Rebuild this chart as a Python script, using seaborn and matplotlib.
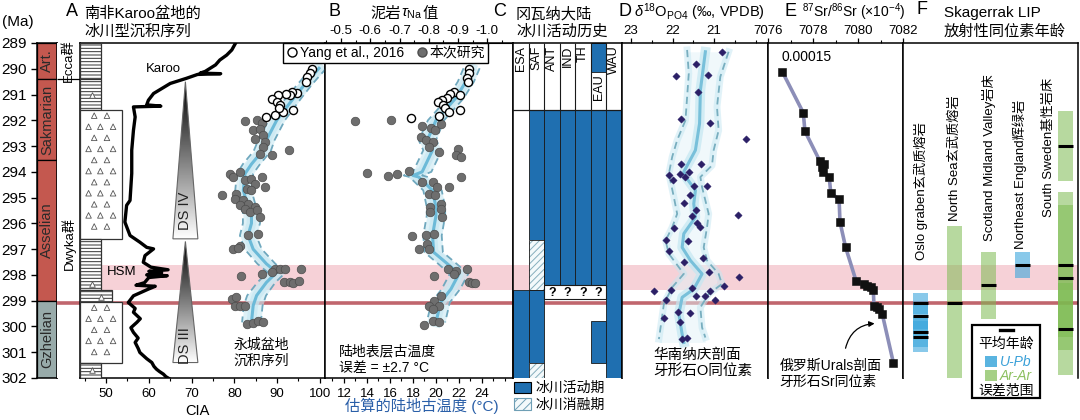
import numpy as np
import matplotlib
matplotlib.use("Agg")
import matplotlib.pyplot as plt
import matplotlib.transforms as mtransforms
from matplotlib.patches import Rectangle, Polygon, Patch
from matplotlib.lines import Line2D
from matplotlib.ticker import MultipleLocator
import seaborn as sns

plt.rcParams["font.family"] = ["Liberation Sans", "Noto Sans CJK SC"]
plt.rcParams["axes.unicode_minus"] = False
plt.rcParams["hatch.linewidth"] = 0.7
plt.rcParams["hatch.color"] = "#86aebd"
plt.rcParams["mathtext.fontset"] = "custom"
plt.rcParams["mathtext.rm"] = "Liberation Sans"
plt.rcParams["mathtext.it"] = "Liberation Sans:italic"

# ---------------- data ----------------
stage_names = ["Art.", "Sakmarian", "Asselian", "Gzhelian"]
stage_top = [289.0, 290.4, 293.55, 299.0]
stage_base = [290.4, 293.55, 299.0, 302.0]

group_names = ["Ecca群", "Dwyka群"]
group_top = [289.0, 290.4]
group_base = [290.4, 302.0]

litho_top = [289.0, 290.4, 291.6, 296.6, 298.6, 299.05, 301.4]
litho_base = [290.4, 291.6, 296.6, 298.6, 299.05, 301.4, 302.0]
litho_kind = ["mud", "mud", "dia", "mud", "mix", "dia", "mud"]
litho_tri_age = [291.0, 298.35, 298.85, 301.7]

karoo_age = [289.0, 289.27, 289.47, 289.66, 289.85, 290.1, 290.17, 290.19, 290.22, 290.37,
             290.57, 290.96, 291.22, 291.4, 291.45, 291.48, 291.87, 292.39, 293.16, 294.06,
             295.11, 295.3, 295.95, 296.47, 296.73, 296.93, 296.99, 297.25, 297.51, 297.7,
             297.8, 297.86, 297.92, 298.0, 298.03, 298.1, 298.3, 298.4, 298.44, 298.55,
             298.81, 299.07, 299.3, 299.45, 299.7, 299.84, 300.05, 300.23, 300.45, 300.62,
             300.85, 301.01, 301.25, 301.4, 301.55, 301.66, 301.75, 301.85, 301.95, 302.05]
karoo_cia = [80.3, 79.4, 78.2, 76.6, 75.6, 73.2, 72.0, 76.8, 71.4, 68.8,
             65.0, 61.1, 59.9, 59.5, 62.8, 56.4, 56.8, 56.4, 56.0, 56.0,
             55.6, 54.8, 54.4, 55.6, 57.9, 59.5, 61.1, 59.1, 58.7, 60.5,
             64.5, 60.0, 63.0, 59.5, 64.3, 60.0, 59.0, 57.0, 61.5, 59.9,
             56.4, 55.2, 56.8, 56.4, 58.0, 57.2, 55.8, 56.4, 57.5, 56.8,
             57.5, 57.9, 59.5, 60.7, 61.2, 61.8, 62.5, 63.4, 64.0, 65.0]

a_open_age = [290.02, 290.18, 290.31, 290.51, 290.93, 290.89, 291.02, 290.96, 291.0,
              291.19, 291.28, 291.41, 291.67, 291.8, 291.89, 291.61, 291.54]
a_open_cia = [98.1, 97.8, 97.0, 96.7, 94.6, 93.4, 93.0, 92.0, 90.3,
              88.7, 89.9, 90.7, 91.3, 89.5, 87.3, 93.8, 90.5]
a_fill_age = [292.03, 291.97, 292.12, 292.39, 292.32, 292.58, 292.71, 292.84, 293.03, 293.29,
              293.36, 293.14, 294.07, 294.2, 294.0, 294.33, 294.26, 294.46, 294.2, 294.59,
              294.65, 294.72, 294.85, 294.89, 295.04, 295.11, 295.24, 295.3, 295.37, 295.45,
              295.56, 295.5, 295.76, 296.4, 296.47, 296.86, 296.99, 296.95, 297.77, 297.77,
              297.77, 297.9, 297.77, 297.96, 298.03, 298.29, 298.29, 298.31, 298.22, 298.93,
              298.87, 299.19, 299.19, 299.19, 299.91, 299.87, 299.78, 299.84]
a_fill_cia = [82.5, 85.2, 86.4, 84.4, 85.9, 86.7, 84.8, 87.1, 86.7, 86.0,
              88.7, 92.8, 79.0, 79.7, 81.3, 82.5, 84.0, 84.8, 86.4, 87.1,
              82.9, 84.0, 80.5, 77.0, 80.1, 82.1, 83.2, 81.3, 84.8, 82.5,
              83.6, 85.2, 86.0, 85.6, 83.2, 81.3, 79.7, 80.9, 89.5, 90.7,
              91.8, 88.7, 95.7, 86.4, 81.5, 91.6, 93.0, 93.6, 95.2, 79.4,
              80.5, 80.1, 81.3, 82.5, 82.9, 84.4, 85.6, 86.7]
a_trend_age = [289.98, 290.6, 291.15, 292.0, 292.77, 293.2, 293.7, 294.07, 294.72, 295.37,
               295.56, 296.0, 296.47, 297.0, 297.57, 297.9, 298.29, 298.8, 299.19, 299.84]
a_trend_mid = [99.8, 96.5, 93.8, 89.9, 87.5, 86.5, 84.0, 82.5, 82.1, 83.2,
               84.0, 84.0, 83.2, 84.4, 87.5, 89.9, 87.5, 85.2, 84.4, 84.0]
a_trend_lo = [98.0, 94.8, 92.0, 88.0, 85.6, 84.5, 82.0, 80.6, 80.2, 81.3,
              82.0, 82.0, 81.3, 82.4, 85.4, 87.8, 85.4, 83.0, 82.2, 81.8]
a_trend_hi = [101.5, 98.2, 95.6, 91.8, 89.4, 88.5, 86.0, 84.4, 84.0, 85.1,
              86.0, 86.0, 85.1, 86.4, 89.6, 92.0, 89.6, 87.4, 86.6, 86.2]

b_open_age = [290.02, 290.18, 290.37, 290.5, 290.89, 290.96, 291.02, 291.15, 291.22,
              291.28, 291.41, 291.54, 291.67, 291.61, 291.84, 291.9]
b_open_t = [22.9, 22.85, 22.7, 22.8, 21.55, 21.26, 22.1, 20.98, 20.55,
            20.2, 20.6, 20.77, 21.1, 22.08, 20.25, 17.8]
b_fill_age = [292.02, 291.97, 292.23, 292.28, 292.39, 292.15, 292.65, 292.77, 292.84, 293.03,
              293.23, 293.1, 293.36, 293.42, 294.03, 294.16, 294.1, 293.98, 294.4, 294.4,
              294.59, 294.59, 294.2, 294.85, 294.91, 295.24, 295.37, 295.56, 295.43, 295.76,
              296.5, 296.47, 296.4, 296.79, 296.99, 296.99, 297.77, 297.83, 297.77, 297.96,
              298.05, 298.26, 298.31, 298.31, 298.83, 299.0, 299.19, 299.19, 299.32, 299.95,
              299.78, 299.84]
b_fill_t = [12.95, 16.1, 18.8, 19.6, 19.95, 20.4, 18.7, 19.1, 19.7, 19.4,
            20.25, 21.9, 21.7, 22.2, 13.97, 15.85, 16.6, 17.65, 18.75, 19.7,
            20.1, 21.1, 22.2, 19.4, 19.95, 20.4, 19.5, 19.5, 20.4, 20.55,
            17.9, 19.1, 19.8, 19.25, 18.5, 19.4, 21.05, 21.7, 22.7, 21.55,
            19.8, 22.85, 23.1, 23.4, 20.4, 19.8, 19.4, 20.25, 19.7, 19.0,
            19.7, 20.25]
b_trend_age = [289.98, 290.5, 291.15, 292.0, 292.77, 293.16, 294.0, 294.14, 294.2, 294.72,
               295.37, 295.7, 296.47, 297.12, 297.57, 297.96, 298.55, 299.07, 299.84]
b_trend_mid = [23.1, 22.6, 21.7, 20.0, 19.25, 19.7, 18.8, 18.0, 18.5, 19.7,
               20.0, 20.0, 19.7, 19.8, 21.0, 22.0, 21.3, 20.4, 20.0]
b_trend_lo = [22.4, 21.9, 21.0, 19.3, 18.5, 18.9, 18.0, 17.2, 17.7, 18.9,
              19.2, 19.2, 18.9, 19.0, 20.2, 21.2, 20.5, 19.6, 19.2]
b_trend_hi = [23.8, 23.3, 22.4, 20.7, 20.0, 20.5, 19.6, 18.8, 19.3, 20.5,
              20.8, 20.8, 20.5, 20.6, 21.8, 22.8, 22.1, 21.2, 20.8]

c_regions = ["ESA", "SAF", "ANT", "IND", "TH", "EAU", "WAU"]
c_active_col = [0, 1, 1, 2, 3, 4, 5, 5, 5, 6]
c_active_top = [298.6, 291.6, 298.6, 291.6, 291.6, 291.6, 289.0, 291.6, 299.8, 291.6]
c_active_base = [302.0, 296.65, 301.42, 298.4, 298.4, 298.4, 290.13, 298.4, 301.42, 302.0]
c_melt_col = [1, 1]
c_melt_top = [296.65, 301.42]
c_melt_base = [298.6, 302.0]
c_unknown_cols = [2, 3, 4, 5]
c_unknown_top, c_unknown_base = 298.4, 298.95

d_age = [289.34, 289.82, 290.28, 290.25, 290.92, 291.95, 292.12, 292.71, 293.68, 293.68,
         294.14, 294.07, 294.2, 294.01, 294.33, 294.53, 294.53, 294.91, 295.2, 295.69,
         295.5, 295.73, 295.99, 296.15, 296.17, 296.64, 296.67, 297.09, 297.48, 297.33,
         297.87, 298.09, 298.44, 298.51, 298.58, 298.64, 298.97, 298.83, 298.83, 298.64,
         298.97, 299.42, 299.48, 299.67, 299.84, 300.49, 300.43]
d_o18 = [20.82, 21.43, 21.93, 21.14, 21.39, 21.8, 21.09, 20.23, 21.79, 21.31,
         22.09, 21.81, 21.69, 21.6, 22.0, 21.49, 21.17, 21.57, 21.73, 20.42,
         21.43, 21.53, 21.41, 21.33, 21.96, 22.15, 21.63, 22.09, 21.72, 21.27,
         21.13, 20.4, 20.75, 21.53, 22.03, 22.44, 22.17, 21.43, 21.21, 21.1,
         20.97, 21.87, 21.57, 22.21, 21.81, 21.77, 21.65]
d_trend_age = [289.34, 290.83, 292.12, 293.16, 294.0, 294.27, 294.72, 295.24, 295.76, 296.4,
               296.93, 297.44, 297.96, 298.55, 298.87, 299.52, 300.3, 300.62]
d_trend_mid = [21.21, 21.33, 21.35, 21.45, 21.73, 21.65, 21.45, 21.49, 21.45, 21.73,
               21.77, 21.57, 21.29, 21.49, 21.77, 21.85, 21.77, 21.73]
d_lo_age = [289.27, 290.18, 292.0, 292.77, 293.42, 294.07, 294.98, 295.63, 296.15, 296.67,
            297.18, 297.96, 298.48, 299.13, 300.04, 300.49]
d_lo = [21.65, 21.61, 21.69, 21.89, 22.01, 22.09, 21.97, 21.89, 22.01, 22.17,
        22.09, 21.73, 22.01, 22.21, 22.29, 22.33]
d_hi_age = [289.34, 290.31, 291.48, 292.39, 293.16, 293.75, 294.2, 294.59, 295.63, 296.15,
            296.93, 297.44, 297.96, 298.35, 298.74, 299.26, 300.04, 300.43]
d_hi = [20.65, 20.85, 20.93, 20.89, 21.01, 21.05, 21.33, 21.29, 21.13, 21.17,
        21.25, 21.17, 20.89, 20.81, 21.13, 21.33, 21.29, 21.21]

e_age = [290.12, 291.71, 292.42, 293.59, 293.68, 293.81, 294.0, 294.2, 294.82, 295.07,
         295.95, 296.93, 298.22, 298.35, 298.42, 298.48, 298.58, 299.19, 299.26, 299.32,
         299.52, 301.4]
e_sr = [7076.64, 7077.57, 7077.64, 7078.31, 7078.49, 7078.39, 7078.43, 7078.72, 7078.79, 7079.16,
        7079.2, 7079.45, 7079.91, 7080.27, 7080.41, 7080.56, 7080.68, 7080.71, 7080.83, 7080.94,
        7081.08, 7081.57]

f_sites = ["Oslo graben玄武质熔岩", "North Sea玄武质熔岩", "Scotland Midland Valley岩床",
           "Northeast England辉绿岩", "South Sweden基性岩床"]
f_site = [0, 0, 0, 0, 1, 2, 3, 4, 4, 4, 4]
f_age = [299.1, 299.6, 300.2, 300.4, 299.1, 298.4, 297.6, 293.0, 297.6, 298.1, 300.1]
f_err = [0.4, 0.5, 0.6, 0.6, 3.0, 1.3, 0.5, 1.35, 2.8, 2.8, 1.8]
f_method = ["U-Pb", "U-Pb", "U-Pb", "U-Pb", "Ar-Ar", "Ar-Ar", "U-Pb",
            "Ar-Ar", "Ar-Ar", "Ar-Ar", "Ar-Ar"]

hsm_top, hsm_base = 297.6, 298.6
boundary_age = 299.1

# ---------------- layout ----------------
W, H = 1080, 420
TOP, BOT = 43, 378
fig = plt.figure(figsize=(W / 100, H / 100), dpi=100)


def fx(x):
    return x / W


def fy(y):
    return 1 - y / H


def add_ax(x0, x1):
    return fig.add_axes([fx(x0), fy(BOT), (x1 - x0) / W, (BOT - TOP) / H])


def ftext(x, y, s, **kw):
    kw.setdefault("ha", "left")
    kw.setdefault("va", "center")
    return fig.text(fx(x), fy(y), s, **kw)


ax_st = add_ax(37, 57)
ax_gr = add_ax(57, 80)
ax_a = add_ax(80, 325)
ax_b = add_ax(325, 513)
ax_c = add_ax(513, 622)
ax_d = add_ax(622, 768)
ax_e = add_ax(768, 903)
ax_f = add_ax(903, 1078)
all_ax = [ax_st, ax_gr, ax_a, ax_b, ax_c, ax_d, ax_e, ax_f]

for ax in all_ax:
    ax.set_ylim(302, 289)
    for sp in ax.spines.values():
        sp.set_linewidth(1.1)
    ax.tick_params(left=False, labelleft=False, bottom=False, labelbottom=False,
                   direction="out", width=0.9, length=3.5, labelsize=9.5)
    ax.tick_params(which="minor", direction="out", width=0.8, length=2.2)

PINK = "#f6d1d7"
RED = "#c0666d"
for ax in [ax_a, ax_b, ax_c, ax_d, ax_e, ax_f]:
    ax.axhspan(hsm_top, hsm_base, color=PINK, lw=0, zorder=0)
for ax in [ax_gr, ax_a, ax_b, ax_c, ax_d, ax_e, ax_f]:
    ax.axhline(boundary_age, color=RED, lw=2.6, zorder=0.5)

# ---------------- stage column ----------------
stage_colors = ["#c4584f", "#c4584f", "#c4584f", "#98abaa"]
for name, t, b, c in zip(stage_names, stage_top, stage_base, stage_colors):
    ax_st.add_patch(Rectangle((0, t), 1, b - t, facecolor=c, edgecolor="k", lw=0.9))
    ax_st.text(0.5, (t + b) / 2, name, rotation=90, ha="center", va="center",
               fontsize=10.5, color="#2a2a2a")
ax_st.set_xlim(0, 1)
ax_st.set_xticks([])
ax_st.set_yticks(range(289, 303))
ax_st.tick_params(left=True, labelleft=True, labelsize=11, length=4, width=1)
ftext(2, 22, "(Ma)", fontsize=11)

# ---------------- group column ----------------
ax_gr.set_xlim(0, 1)
ax_gr.set_xticks([])
for sp in ax_gr.spines.values():
    sp.set_visible(False)
ax_gr.hlines(group_base[0], 0, 1, color="k", lw=0.9)
for name, t, b in zip(group_names, group_top, group_base):
    yc = (t + b) / 2 if b - t < 3 else 296.8
    ax_gr.text(0.5, yc, name, rotation=90, ha="center", va="center", fontsize=9.5)

# ---------------- panel A ----------------
ax_a.set_xlim(43.9, 101.2)
trans_a = mtransforms.blended_transform_factory(ax_a.transAxes, ax_a.transData)
kind_width = {"mud": 0.0857, "mix": 0.131, "dia": 0.171}
for t, b, k in zip(litho_top, litho_base, litho_kind):
    if k == "dia":
        ax_a.add_patch(Rectangle((0, t), kind_width[k], b - t, transform=trans_a,
                                 facecolor="white", edgecolor="#333333", lw=0.9, zorder=3))
        rows = np.arange(t + 0.22, b - 0.15, 0.43)
        for i, yy in enumerate(rows):
            xs = [0.035, 0.083, 0.135] if i % 2 else [0.058, 0.11]
            ax_a.scatter(xs, [yy] * len(xs), marker="^", s=16, facecolor="none",
                         edgecolor="#555555", lw=0.6, transform=trans_a, zorder=4)
    else:
        ax_a.add_patch(Rectangle((0, t), kind_width[k], b - t, transform=trans_a,
                                 facecolor="white", edgecolor="#333333", lw=0.9,
                                 hatch="-----", zorder=3))
for ta in litho_tri_age:
    in_mix = any(t <= ta < b and k == "mix" for t, b, k in zip(litho_top, litho_base, litho_kind))
    ax_a.scatter([0.085 if in_mix else 0.05], [ta], marker="^", s=16, facecolor="white",
                 edgecolor="#555555", lw=0.6, transform=trans_a, zorder=4)


def ds_triangle(ax, apex, base, xc, half, label, label_y):
    tri = Polygon([[xc, apex], [xc - half, base], [xc + half, base]], closed=True,
                  facecolor="none", edgecolor="#666666", lw=0.8, zorder=3)
    ax.add_patch(tri)
    grad = np.linspace(0, 1, 200).reshape(-1, 1)
    im = ax.imshow(grad, cmap="gray", vmin=0, vmax=1.0, extent=[xc - half, xc + half, base, apex],
                   aspect="auto", zorder=2, interpolation="bilinear")
    im.set_clip_path(tri)
    ax.text(xc, label_y, label, rotation=90, ha="center", va="center", fontsize=10.5,
            color="#222222", zorder=4)


ds_triangle(ax_a, 290.5, 296.6, 68.55, 2.92, "DS IV", 295.5)
ds_triangle(ax_a, 296.7, 301.4, 68.55, 2.92, "DS III", 300.75)

sns.lineplot(x=karoo_cia, y=karoo_age, sort=False, estimator=None, color="k", lw=2.4,
             ax=ax_a, zorder=4)


def trend(ax, age, mid, lo, hi, glow="#c8e8f2", col="#6cbad8", dcol="#6fa8be",
          lo_age=None, hi_age=None, fill_alpha=0.6):
    lo_age = age if lo_age is None else lo_age
    hi_age = age if hi_age is None else hi_age
    if lo_age is age and hi_age is age:
        ax.fill_betweenx(age, lo, hi, color=glow, alpha=fill_alpha, lw=0, zorder=1.5)
    sns.lineplot(x=mid, y=age, sort=False, estimator=None, color=glow, lw=7, alpha=0.7,
                 ax=ax, zorder=1.6)
    sns.lineplot(x=mid, y=age, sort=False, estimator=None, color=col, lw=2.2, ax=ax, zorder=3)
    for e, ea in ((lo, lo_age), (hi, hi_age)):
        if lo_age is not age:
            sns.lineplot(x=e, y=ea, sort=False, estimator=None, color=glow, lw=5, alpha=0.5,
                         ax=ax, zorder=1.6)
        sns.lineplot(x=e, y=ea, sort=False, estimator=None, color=dcol, lw=1.3,
                     ls=(0, (4, 2.5)), ax=ax, zorder=3)


trend(ax_a, a_trend_age, a_trend_mid, a_trend_lo, a_trend_hi)
sns.scatterplot(x=a_fill_cia, y=a_fill_age, ax=ax_a, color="#6e6e6e", edgecolor="#4d4d4d",
                linewidth=0.5, s=38, zorder=5)
sns.scatterplot(x=a_open_cia, y=a_open_age, ax=ax_a, color="white", edgecolor="k",
                linewidth=1.0, s=34, zorder=6)
ax_a.set_xlim(43.9, 101.2)
ax_a.set_ylim(302, 289)
ax_a.set_xticks(range(50, 101, 10))
ax_a.xaxis.set_minor_locator(MultipleLocator(5))
ax_a.tick_params(bottom=True, labelbottom=True)
ax_a.tick_params(which="minor", bottom=True)
ax_a.text(63.3, 290.0, "Karoo", ha="center", va="center", fontsize=9.5, zorder=5)
ax_a.text(50.2, 297.87, "HSM", ha="left", va="center", fontsize=9.5, zorder=5)
ax_a.text(79.7, 300.45, "永城盆地\n沉积序列", ha="left", va="top", fontsize=10,
          linespacing=1.15, zorder=5)
ax_a.set_xlabel("")
ax_a.set_ylabel("")
ftext(197, 411, "CIA", ha="center", fontsize=10.5)

# ---------------- panel B ----------------
ax_b.set_xlim(10.35, 26.7)
trend(ax_b, b_trend_age, b_trend_mid, b_trend_lo, b_trend_hi)
sns.scatterplot(x=b_fill_t, y=b_fill_age, ax=ax_b, color="#6e6e6e", edgecolor="#4d4d4d",
                linewidth=0.5, s=38, zorder=5)
sns.scatterplot(x=b_open_t, y=b_open_age, ax=ax_b, color="white", edgecolor="k",
                linewidth=1.0, s=34, zorder=6)
ax_b.set_xlim(10.35, 26.7)
ax_b.set_ylim(302, 289)
ax_b.set_xticks(range(12, 25, 2))
ax_b.xaxis.set_minor_locator(MultipleLocator(1))
ax_b.tick_params(bottom=True, labelbottom=True)
ax_b.tick_params(which="minor", bottom=True)
ax_b.set_xlabel("")
ax_b.set_ylabel("")


def t2tau(t):
    return -0.5 - (np.asarray(t) - 11.74) * 0.03928


def tau2t(v):
    return 11.74 + (-0.5 - np.asarray(v)) / 0.03928


sec = ax_b.secondary_xaxis("top", functions=(t2tau, tau2t))
tau_ticks = [-0.5, -0.6, -0.7, -0.8, -0.9, -1.0]
sec.set_xticks(tau_ticks)
sec.set_xticklabels([f"{v:.1f}" for v in tau_ticks])
sec.xaxis.set_minor_locator(MultipleLocator(0.05))
sec.tick_params(direction="out", length=3.5, width=0.9, labelsize=9.5, pad=1)
sec.tick_params(which="minor", direction="out", length=2.2, width=0.8)
ax_b.text(11.6, 300.95, "陆地表层古温度", ha="left", va="center", fontsize=10, zorder=5)
ax_b.text(11.6, 301.62, "误差 = ±2.7 °C", ha="left", va="center", fontsize=10, zorder=5)
ftext(422, 406, "估算的陆地古温度 (°C)", ha="center", fontsize=11, color="#2a5fa8")

leg_h = [Line2D([], [], marker="o", ls="", markerfacecolor="white", markeredgecolor="k",
                markersize=6.5),
         Line2D([], [], marker="o", ls="", markerfacecolor="#6e6e6e",
                markeredgecolor="#4d4d4d", markersize=6.5)]
leg = fig.legend(leg_h, ["Yang et al., 2016", "本次研究"], loc="upper right",
                 bbox_to_anchor=(fx(488), fy(43)), ncol=2, frameon=True, fancybox=False,
                 edgecolor="k", framealpha=1, fontsize=10, handletextpad=0.05,
                 columnspacing=0.8, borderpad=0.2, handlelength=1.0, borderaxespad=0)
leg.get_frame().set_linewidth(1.0)

# ---------------- panel C ----------------
BLUE = "#1f6fb0"
ax_c.set_xlim(0, 7)
ax_c.set_xticks([])
ax_c.spines["bottom"].set_visible(False)
for col, t, b in zip(c_active_col, c_active_top, c_active_base):
    ax_c.bar(col + 0.5, b - t, bottom=t, width=1, color=BLUE, edgecolor="#1a1a1a",
             lw=0.6, zorder=2)
for col, t, b in zip(c_melt_col, c_melt_top, c_melt_base):
    ax_c.bar(col + 0.5, b - t, bottom=t, width=1, color="#f3f9fb", edgecolor=None, lw=0,
             hatch="/////", zorder=2)
    ax_c.add_patch(Rectangle((col, t), 1, b - t, fill=False, edgecolor="#1a1a1a", lw=0.6,
                             zorder=2.5))
qc = c_unknown_cols
ax_c.add_patch(Rectangle((qc[0], c_unknown_top), len(qc), c_unknown_base - c_unknown_top,
                         facecolor="white", edgecolor="#1a1a1a", lw=0.8, zorder=3))
for col in qc:
    ax_c.text(col + 0.5, (c_unknown_top + c_unknown_base) / 2 + 0.03, "?", ha="center",
              va="center", fontsize=9, fontweight="bold", zorder=4)
ax_c.axhline(291.6, color="#1a1a1a", lw=0.9, zorder=3)
ax_c.vlines(range(1, 7), 289, 291.6, color="#1a1a1a", lw=0.8, zorder=3)
for i, name in enumerate(c_regions):
    ytop = 290.2 if name == "EAU" else 289.1
    ax_c.text(i + 0.5, ytop, name, rotation=90, ha="center", va="top", fontsize=9,
              zorder=4)
c_handles = [Patch(facecolor=BLUE, edgecolor="k", lw=0.8),
             Patch(facecolor="#f3f9fb", edgecolor="#6f9fb5", hatch="////", lw=0.8)]
ax_c.legend(c_handles, ["冰川活动期", "冰川消融期"], loc="upper left",
            bbox_to_anchor=(0.0, -0.005), frameon=False, fontsize=10, handlelength=1.2,
            handleheight=0.9, handletextpad=0.3, labelspacing=0.2, borderaxespad=0,
            borderpad=0.1)

# ---------------- panel D ----------------
ax_d.spines["bottom"].set_visible(False)
ax_d.fill_betweenx(d_trend_age, np.interp(d_trend_age, d_lo_age, d_lo),
                   np.interp(d_trend_age, d_hi_age, d_hi), color="#e2f3f8", alpha=0.5,
                   lw=0, zorder=1.5)
trend(ax_d, d_trend_age, d_trend_mid, d_lo, d_hi, glow="#c4e7f2", col="#78c0da",
      dcol="#78aebf", lo_age=d_lo_age, hi_age=d_hi_age)
sns.scatterplot(x=d_o18, y=d_age, ax=ax_d, marker="D", color="#2b1f66", edgecolor="#2b1f66",
                s=14, zorder=5)
ax_d.set_xlim(23.22, 19.7)
ax_d.set_ylim(302, 289)
ax_d.xaxis.tick_top()
ax_d.set_xticks([23, 22, 21])
ax_d.xaxis.set_minor_locator(MultipleLocator(0.5))
ax_d.tick_params(top=True, labeltop=True, bottom=False, labelbottom=False, pad=1)
ax_d.tick_params(which="minor", top=True, bottom=False)
ax_d.set_xlabel("")
ax_d.set_ylabel("")
ax_d.text(22.47, 300.83, "华南纳庆剖面\n牙形石O同位素", ha="left", va="top", fontsize=10.5,
          linespacing=1.15, zorder=5)

# ---------------- panel E ----------------
ax_e.spines["bottom"].set_visible(False)
sns.lineplot(x=e_sr, y=e_age, sort=False, estimator=None, color="#8c8eb8", lw=2.6,
             ax=ax_e, zorder=3)
sns.scatterplot(x=e_sr, y=e_age, ax=ax_e, marker="s", color="#111111", edgecolor="#111111",
                s=26, zorder=5)
ax_e.set_xlim(7076, 7082)
ax_e.set_ylim(302, 289)
ax_e.xaxis.tick_top()
ax_e.set_xticks([7076, 7078, 7080, 7082])
ax_e.xaxis.set_minor_locator(MultipleLocator(1))
ax_e.tick_params(top=True, labeltop=True, bottom=False, labelbottom=False, pad=1)
ax_e.tick_params(which="minor", top=True, bottom=False)
ax_e.set_xlabel("")
ax_e.set_ylabel("")
ax_e.text(7076.6, 289.55, "0.00015", ha="left", va="center", fontsize=10)
ax_e.text(7076.5, 301.27, "俄罗斯Urals剖面\n牙形石Sr同位素", ha="left", va="top", fontsize=10,
          linespacing=1.15, zorder=5, clip_on=False)
ax_e.annotate("", xy=(7080.86, 299.88), xytext=(7079.42, 300.95),
              arrowprops=dict(arrowstyle="-|>", color="k", lw=0.9, mutation_scale=8,
                              connectionstyle="arc3,rad=-0.4"))

# ---------------- panel F ----------------
ax_f.spines["bottom"].set_visible(False)
f_pos = [0, 1, 2, 3, 4.27]
f_colors = {"U-Pb": "#3aa6dc", "Ar-Ar": "#7cbb50"}
f_alpha = {"U-Pb": 0.6, "Ar-Ar": 0.55}
bw = 0.44
for s, a, e, m in zip(f_site, f_age, f_err, f_method):
    ax_f.bar(f_pos[s], 2 * e, bottom=a - e, width=bw, color=f_colors[m], alpha=f_alpha[m],
             lw=0, zorder=2)
for s, a in zip(f_site, f_age):
    ax_f.hlines(a, f_pos[s] - bw / 2, f_pos[s] + bw / 2, color="k", lw=2.2, zorder=4)
ax_f.set_xlim(-0.515, 4.63)
ax_f.set_xticks([])
label_x = [0, 1, 2, 2.93, 3.78]
label_base = [297.44, 295.9, 296.67, 296.98, 295.77]
for name, lx, lb in zip(f_sites, label_x, label_base):
    ax_f.text(lx, lb, name, rotation=90, ha="center", va="bottom", fontsize=9.5, zorder=5)

# F legend box
fig.add_artist(Rectangle((fx(972), fy(398)), 68 / W, 73 / H, transform=fig.transFigure,
                         fill=False, edgecolor="k", lw=1.6, zorder=6))
fig.add_artist(Line2D([fx(1000), fx(1013)], [fy(330), fy(330)], transform=fig.transFigure,
                      color="k", lw=2.4, zorder=6))
ftext(1006, 344, "平均年龄", ha="center", fontsize=10)
fig.add_artist(Rectangle((fx(985), fy(367)), 12 / W, 11 / H, transform=fig.transFigure,
                         facecolor="#5ab4e0", lw=0, zorder=6))
ftext(1000, 361.5, "U-Pb", fontsize=10, style="italic", color="#3aa0d8")
fig.add_artist(Rectangle((fx(985), fy(381)), 12 / W, 11 / H, transform=fig.transFigure,
                         facecolor="#a5d086", lw=0, zorder=6))
ftext(1000, 375.5, "Ar-Ar", fontsize=10, style="italic", color="#8cc060")
ftext(1006, 391, "误差范围", ha="center", fontsize=10)

# ---------------- headers ----------------
ftext(72, 12, "A", ha="center", fontsize=13)
ftext(84, 14, "南非Karoo盆地的", fontsize=11)
ftext(84, 32, "冰川型沉积序列", fontsize=11)
ftext(335, 12, "B", ha="center", fontsize=13)
ftext(401, 14, "泥岩", ha="right", fontsize=11)
ftext(401, 14, r"$\tau_{\rm Na}$", ha="left", fontsize=11)
ftext(423, 14, "值", ha="left", fontsize=11)
ftext(500, 12, "C", ha="center", fontsize=13)
ftext(516, 14, "冈瓦纳大陆", fontsize=11)
ftext(516, 32, "冰川活动历史", fontsize=11)
ftext(625, 12, "D", ha="center", fontsize=13)
ftext(634, 12, r"$\delta^{18}$O$_{\rm PO4}$ (‰, VPDB)", fontsize=10.5)
ftext(790, 12, "E", ha="center", fontsize=13)
ftext(802, 12, r"$^{87}$Sr/$^{86}$Sr (×10$^{-4}$)", fontsize=10)
ftext(922, 10, "F", ha="center", fontsize=13)
ftext(944, 13, "Skagerrak LIP", fontsize=11)
ftext(944, 32, "放射性同位素年龄", fontsize=11)

fig.savefig("out.png", dpi=100)
